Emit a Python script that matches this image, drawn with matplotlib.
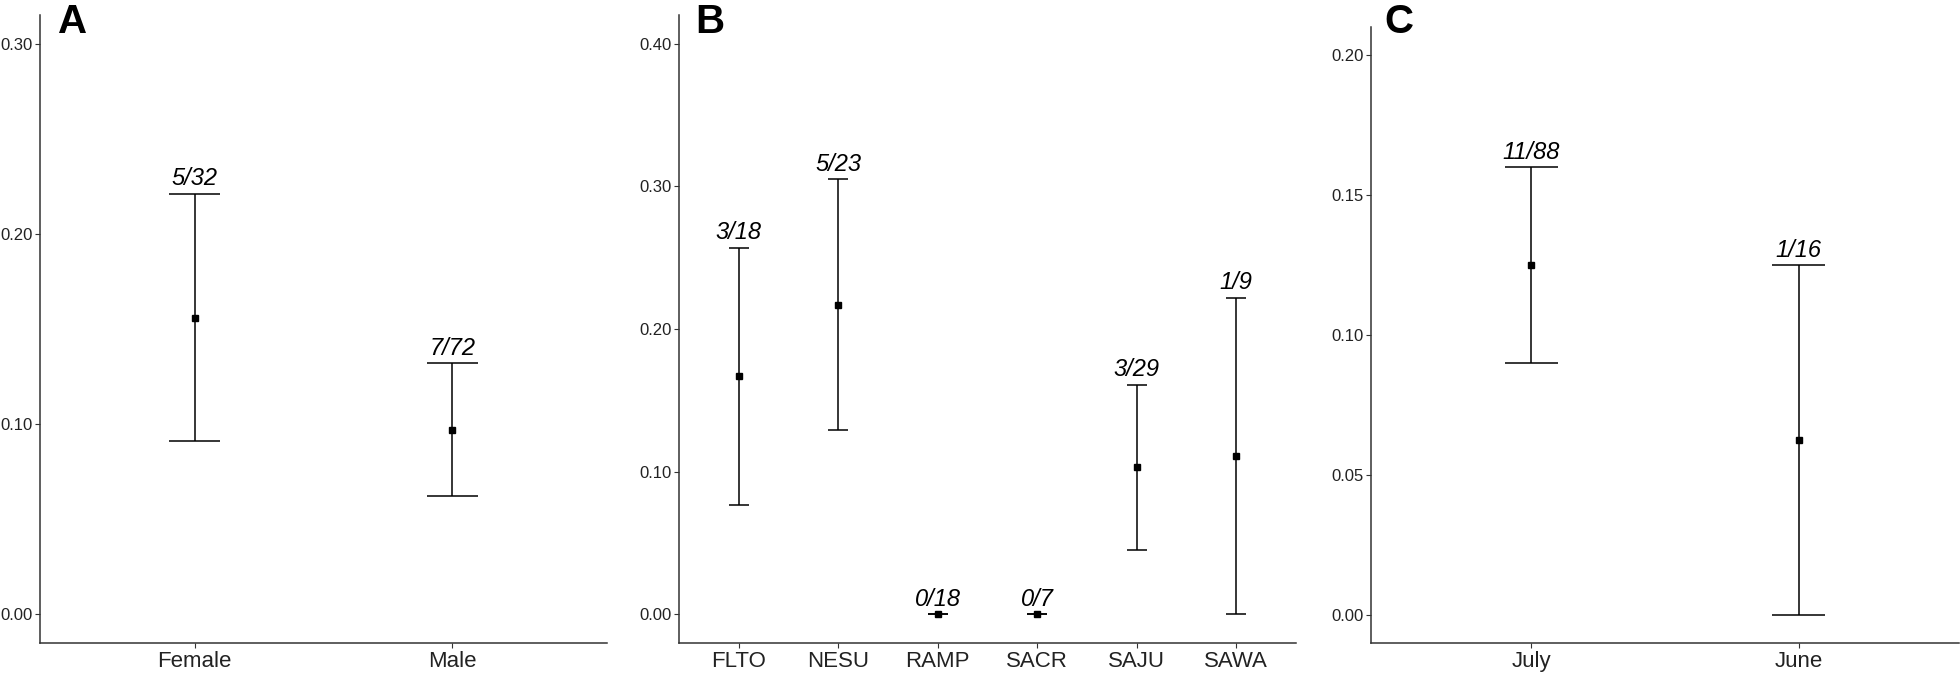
import matplotlib
matplotlib.use("Agg")
import matplotlib.pyplot as plt
from matplotlib.ticker import FormatStrFormatter

plt.rcParams['font.family'] = ['Liberation Sans', 'DejaVu Sans']

# panel A: sex
a_groups = ['Female', 'Male']
a_est = [0.156, 0.097]
a_lo = [0.091, 0.062]
a_hi = [0.221, 0.132]
a_labels = ['5/32', '7/72']

# panel B: site
b_groups = ['FLTO', 'NESU', 'RAMP', 'SACR', 'SAJU', 'SAWA']
b_est = [0.167, 0.217, 0.0, 0.0, 0.103, 0.111]
b_lo = [0.077, 0.129, 0.0, 0.0, 0.045, 0.0]
b_hi = [0.257, 0.305, 0.0, 0.0, 0.161, 0.222]
b_labels = ['3/18', '5/23', '0/18', '0/7', '3/29', '1/9']

# panel C: month
c_groups = ['July', 'June']
c_est = [0.125, 0.0625]
c_lo = [0.090, 0.0]
c_hi = [0.160, 0.125]
c_labels = ['11/88', '1/16']

W, H = 1960, 680
fig = plt.figure(figsize=(W / 100, H / 100), dpi=100)

def panel(rect, groups, est, lo, hi, labels, yticks, ymax, letter, letter_x):
    ax = fig.add_axes([rect[0] / W, 1 - rect[3] / H, (rect[1] - rect[0]) / W, (rect[3] - rect[2]) / H])
    x = list(range(1, len(groups) + 1))
    cap = 0.1
    ax.vlines(x, lo, hi, color='black', lw=1.1)
    ax.hlines(lo, [v - cap for v in x], [v + cap for v in x], color='black', lw=1.1)
    ax.hlines(hi, [v - cap for v in x], [v + cap for v in x], color='black', lw=1.1)
    ax.plot(x, est, 's', color='black', ms=5, ls='none')
    for xi, top, lab in zip(x, hi, labels):
        ax.annotate(lab, (xi, top), xytext=(0, 2.5), textcoords='offset points',
                    ha='center', va='bottom', fontsize=17, style='italic')
    ax.set_xlim(0.4, len(groups) + 0.6)
    ax.set_ylim(-0.05 * ymax, 1.05 * ymax)
    ax.set_xticks(x)
    ax.set_xticklabels(groups)
    ax.set_yticks(yticks)
    ax.yaxis.set_major_formatter(FormatStrFormatter('%.2f'))
    for s in ['top', 'right']:
        ax.spines[s].set_visible(False)
    for s in ['left', 'bottom']:
        ax.spines[s].set_color('#333333')
        ax.spines[s].set_linewidth(1.1)
    ax.tick_params(axis='x', labelsize=16, length=3.5, pad=2, color='#333333', labelcolor='#222222')
    ax.tick_params(axis='y', labelsize=12, length=3.5, pad=1.5, color='#333333', labelcolor='#222222')
    fig.text(letter_x / W, 1 - 33 / H, letter, fontsize=29, fontweight='bold', va='baseline', ha='left')
    return ax

panel((40, 607, 15, 643), a_groups, a_est, a_lo, a_hi, a_labels,
      [0.0, 0.1, 0.2, 0.3], 0.3, 'A', 58)
panel((679, 1296, 15, 643), b_groups, b_est, b_lo, b_hi, b_labels,
      [0.0, 0.1, 0.2, 0.3, 0.4], 0.4, 'B', 695)
panel((1371, 1959, 27, 643), c_groups, c_est, c_lo, c_hi, c_labels,
      [0.0, 0.05, 0.1, 0.15, 0.2], 0.2, 'C', 1384)

fig.savefig('out.png', dpi=100)
